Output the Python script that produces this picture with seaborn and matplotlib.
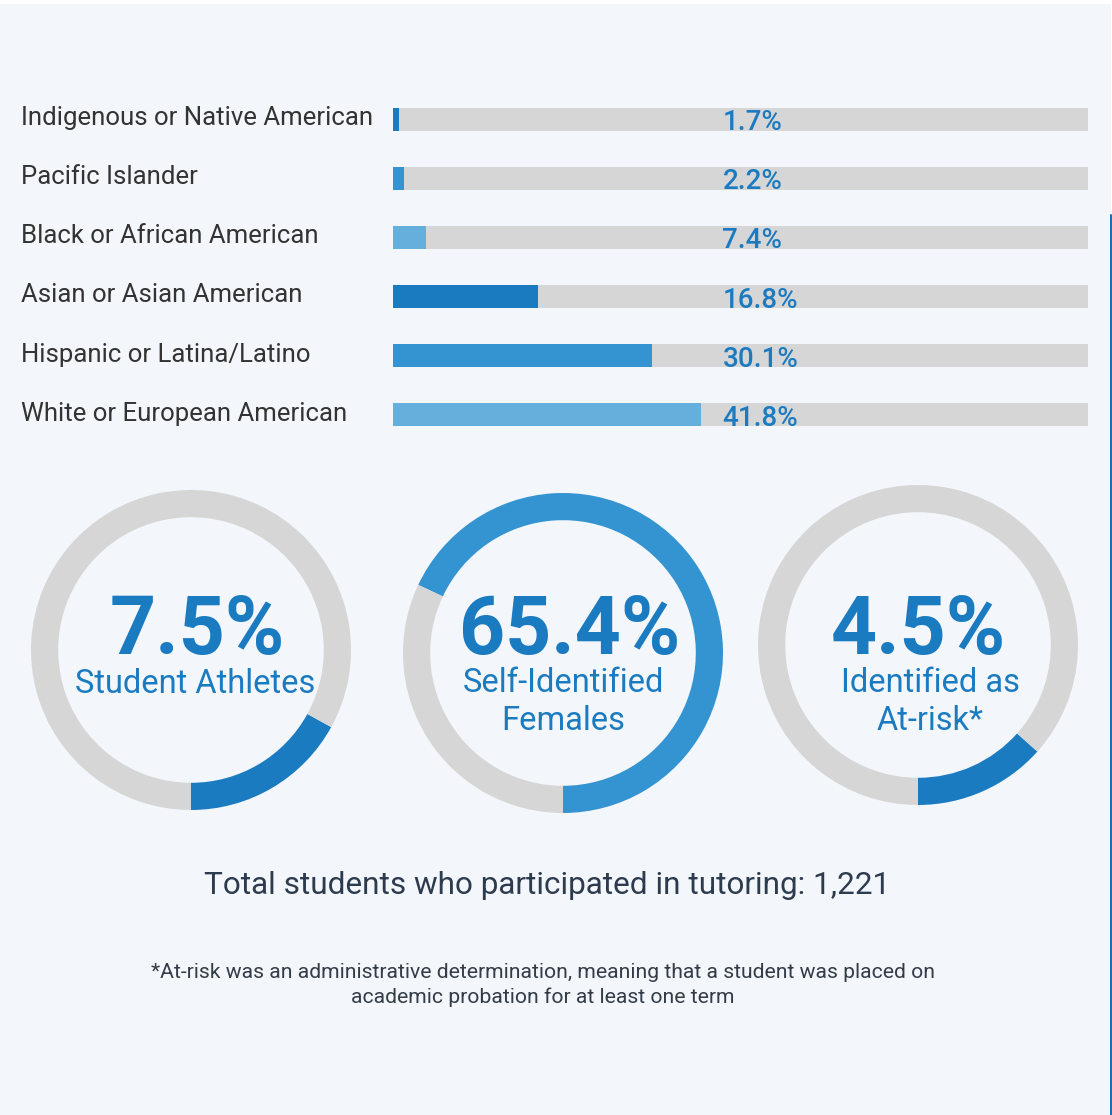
import matplotlib
matplotlib.use("Agg")
import matplotlib.pyplot as plt
import seaborn as sns
import pandas as pd
from matplotlib.patches import Rectangle
from matplotlib.transforms import blended_transform_factory

# ---------------- data ----------------
categories = ["Indigenous or Native American", "Pacific Islander",
              "Black or African American", "Asian or Asian American",
              "Hispanic or Latina/Latino", "White or European American"]
values = [1.7, 2.2, 7.4, 16.8, 30.1, 41.8]
# filled length of each bar as drawn in the picture (% of the grey track)
bar_fill = [0.8, 1.6, 4.7, 20.9, 37.3, 44.3]
track = [100, 100, 100, 100, 100, 100]

ring_values = ["7.5%", "65.4%", "4.5%"]
ring_labels = ["Student Athletes", "Self-Identified\nFemales", "Identified as\nAt-risk*"]
# filled share of each ring as drawn in the picture (%)
ring_fill = [17.0, 68.0, 13.4]

total_text = "Total students who participated in tutoring: 1,221"
footnote = ("*At-risk was an administrative determination, meaning that a student was placed on\n"
            "academic probation for at least one term")

# ---------------- style ----------------
BG = "#f3f6fa"
TRACK = "#d6d6d6"
DARK = "#1b7bc1"
MID = "#3494d2"
LIGHT = "#64afdc"
bar_colors = [DARK, MID, LIGHT, DARK, MID, LIGHT]
ring_colors = [DARK, MID, DARK]

sns.set_theme(style="white")
plt.rcParams["font.family"] = ["Roboto", "DejaVu Sans"]

W, H = 1112, 1115
fig = plt.figure(figsize=(W / 100, H / 100), dpi=100, facecolor=BG)

# background / annotation axes in pixel coordinates
axbg = fig.add_axes([0, 0, 1, 1])
axbg.set_xlim(0, W)
axbg.set_ylim(H, 0)
axbg.axis("off")
axbg.set_facecolor(BG)
axbg.add_patch(Rectangle((0, 0), W, 4, color="white", lw=0))
axbg.add_patch(Rectangle((1111, 0), 2, H, color="white", lw=0))
axbg.plot([1110.5, 1110.5], [215, H], color="#1f6aa8", lw=1.4)

# ---------------- bars ----------------
top_px, bot_px = 89.5, 444.5
left_px, width_px = 393, 695
axb = fig.add_axes([left_px / W, 1 - bot_px / H, width_px / W, (bot_px - top_px) / H])
axb.set_facecolor("none")
df = pd.DataFrame({"category": categories, "value": values,
                   "fill": bar_fill, "track": track})
sns.barplot(data=df, y="category", x="track", order=categories, color=TRACK,
            width=0.39, linewidth=0, saturation=1, ax=axb)
sns.barplot(data=df, y="category", x="fill", order=categories, hue="category",
            hue_order=categories, palette=bar_colors, dodge=False, legend=False,
            width=0.39, linewidth=0, saturation=1, ax=axb)
axb.set_xlim(0, 100)
axb.set_ylim(5.5, -0.5)
axb.axis("off")

trans = blended_transform_factory(axb.transAxes, axb.transData)
for i, (cat, v) in enumerate(zip(categories, values)):
    axb.text((21 - left_px) / width_px, i - 0.02, cat, transform=trans,
             ha="left", va="center", fontsize=18.5, color="#333333")
    axb.text(47.4, i + 0.06, f"{v}%", ha="left", va="center",
             fontsize=20, color=DARK, fontweight="medium")

# ---------------- rings ----------------
centers = [(191, 650), (563, 653), (918, 645)]
radius = 160
text_y = [(632, 684), (632, 702), (632, 702)]
text_dx = [6, 7, 0]
label_dx = [4, 0, 12]
for k, ((cx, cy), fv, col) in enumerate(zip(centers, ring_fill, ring_colors)):
    axr = fig.add_axes([(cx - radius) / W, 1 - (cy + radius) / H,
                        2 * radius / W, 2 * radius / H])
    axr.pie([fv, 100 - fv], colors=[col, TRACK], startangle=270, counterclock=True,
            radius=1, wedgeprops=dict(width=0.17, linewidth=0))
    axr.set_xlim(-1, 1)
    axr.set_ylim(-1, 1)
    axr.axis("off")
    axbg.text(cx + text_dx[k], text_y[k][0], ring_values[k], ha="center", va="center",
              fontsize=58, fontweight="bold", color=DARK)
    axbg.text(cx + label_dx[k], text_y[k][1], ring_labels[k], ha="center", va="center",
              fontsize=23.5, color=DARK, fontweight="normal", linespacing=1.2)

# ---------------- footer texts ----------------
axbg.text(547, 886, total_text, ha="center", va="center", fontsize=22.7,
          color="#2d3b4e")
axbg.text(543, 985, footnote, ha="center", va="center", fontsize=15.2,
          color="#333c47", linespacing=1.3)

fig.savefig("out.png", dpi=100, facecolor=BG)
